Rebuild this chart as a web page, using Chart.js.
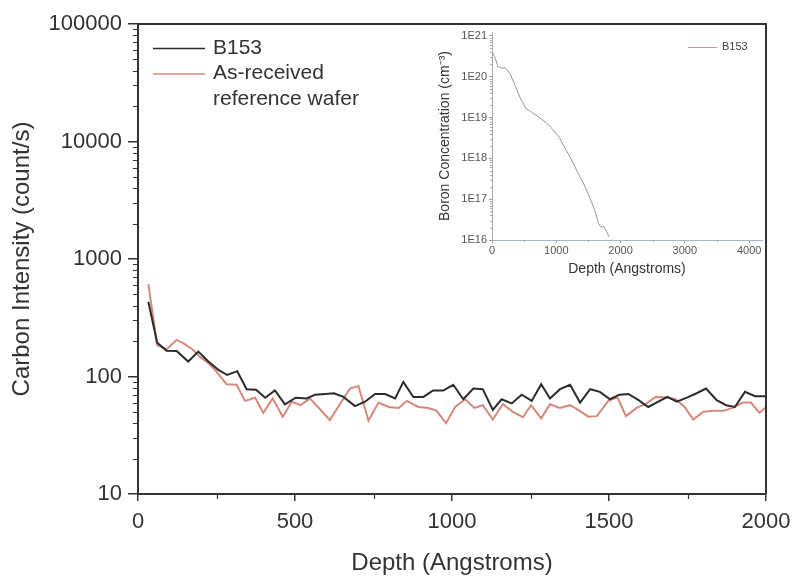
<!DOCTYPE html>
<html>
<head>
<meta charset="utf-8">
<script src="https://cdn.jsdelivr.net/npm/chart.js@4/dist/chart.umd.min.js"></script>
<style>
html, body { margin: 0; padding: 0; background: #fff; }
#wrap { position: relative; width: 792px; height: 576px; }
#main { position: absolute; left: 0; top: 0; }
#inset { position: absolute; left: 425px; top: 24px; }
</style>
</head>
<body>
<div id="wrap">
<canvas id="main" width="792" height="576"></canvas>
<canvas id="inset" width="345" height="266"></canvas>
</div>
<script>
// main plot: carbon SIMS profile
var b153Depth = [33, 61, 91, 123, 160, 192, 224, 256, 284, 316, 346, 376, 405, 436, 468, 502, 537, 564, 596, 624,
	654, 691, 723, 755, 787, 819, 845, 877, 909, 940, 972, 1004, 1036, 1068, 1098, 1130, 1158, 1190, 1222, 1254,
	1284, 1312, 1344, 1376, 1408, 1440, 1471, 1503, 1533, 1562, 1594, 1625, 1657, 1686, 1716, 1748, 1779, 1809,
	1843, 1873, 1901, 1933, 1965, 2000];
var b153Counts = [433, 194, 166, 165, 134, 163, 134, 114, 103, 111, 78, 77, 66, 76, 58, 66, 65, 70, 71, 72,
	67, 56, 61, 71, 71, 65, 90, 67, 67, 76, 76, 85, 64, 79, 78, 52, 64, 59, 70, 62,
	86, 65, 78, 85, 60, 78, 74, 64, 70, 71, 63, 55, 61, 67, 61, 66, 72, 79,
	63, 57, 55, 74, 68, 68];

var refDepth = [33, 61, 91, 123, 144, 176, 197, 224, 250, 282, 314, 341, 373, 399, 429, 461, 490, 518, 548, 611,
	643, 675, 702, 734, 766, 798, 830, 856, 893, 925, 951, 981, 1010, 1042, 1071, 1098, 1130, 1162, 1194, 1226,
	1252, 1284, 1312, 1344, 1376, 1402, 1434, 1461, 1498, 1527, 1554, 1588, 1620, 1648, 1680, 1712, 1741, 1768,
	1800, 1832, 1864, 1894, 1926, 1952, 1979, 2000];
var refCounts = [612, 185, 170, 205, 192, 168, 147, 130, 110, 86, 85, 62, 66, 49, 65, 45.5, 61, 57, 65, 42.6,
	58, 79, 83, 42, 60, 55, 54, 62, 55, 54, 51, 40, 55, 64, 54, 57, 43, 58, 50, 45,
	57, 44, 58, 54, 57, 52, 45.5, 46, 62, 66.5, 46, 54, 59, 67, 66.5, 64, 55, 43,
	50, 51, 51, 54, 60, 60, 49, 55];

var xTicks = [0, 500, 1000, 1500, 2000];
var xMinor = [250, 750, 1250, 1750];
var yTicks = [10, 100, 1000, 10000, 100000];
var yMinor = [];
[10, 100, 1000, 10000].forEach(function(d) {
	for (var k = 2; k <= 9; k++) yMinor.push(k * d);
});

// inset: boron profile
var boronDepth = [0, 40, 90, 150, 210, 280, 360, 440, 530, 600, 700, 850, 950, 1050, 1110, 1240, 1340, 1450,
	1550, 1600, 1660, 1690, 1740, 1780, 1820];
var boronConc = [4.0e20, 3.2e20, 1.8e20, 1.65e20, 1.65e20, 1.2e20, 6.0e19, 3.0e19, 1.65e19, 1.4e19, 1.1e19,
	7.4e18, 5.0e18, 3.2e18, 2.1e18, 9.1e17, 4.3e17, 2.0e17, 8.3e16, 5.2e16, 2.5e16, 2.1e16, 2.1e16, 1.65e16, 1.2e16];

var insetXTicks = [0, 1000, 2000, 3000, 4000];
var insetXMinor = [500, 1500, 2500, 3500];
var insetYTicks = [1e16, 1e17, 1e18, 1e19, 1e20, 1e21];
var insetYMinor = [];
[1e16, 1e17, 1e18, 1e19, 1e20].forEach(function(d) {
	for (var k = 2; k <= 9; k++) insetYMinor.push(k * d);
});

var FAMILY = '"Liberation Sans", Arial, Helvetica, sans-serif';
Chart.defaults.font.family = FAMILY;

function pairs(xs, ys) {
	return xs.map(function(x, i) { return {x: x, y: ys[i]}; });
}

// keep label overhang from shrinking the plot box
function noPad(s) {
	s.paddingLeft = 0;
	s.paddingRight = 0;
	s.paddingTop = 0;
	s.paddingBottom = 0;
}

// top + right border of the plot box
var frame = {
	id: 'frame',
	afterDraw: function(chart, args, opts) {
		if (!opts.width) return;
		var a = chart.chartArea, ctx = chart.ctx;
		ctx.save();
		ctx.strokeStyle = opts.color;
		ctx.lineWidth = opts.width;
		ctx.beginPath();
		ctx.moveTo(a.left, a.top);
		ctx.lineTo(a.right, a.top);
		ctx.lineTo(a.right, a.bottom);
		ctx.stroke();
		ctx.restore();
	}
};

// short minor ticks, outside the axes
var minorTicks = {
	id: 'minorTicks',
	afterDraw: function(chart, args, opts) {
		var ctx = chart.ctx, xs = chart.scales.x, ys = chart.scales.y;
		ctx.save();
		ctx.strokeStyle = opts.color;
		ctx.lineWidth = opts.width;
		ctx.beginPath();
		(opts.x || []).forEach(function(v) {
			var px = Math.round(xs.getPixelForValue(v)) + 0.5;
			ctx.moveTo(px, xs.top);
			ctx.lineTo(px, xs.top + opts.len);
		});
		(opts.y || []).forEach(function(v) {
			var py = Math.round(ys.getPixelForValue(v)) + 0.5;
			ctx.moveTo(ys.right, py);
			ctx.lineTo(ys.right - opts.len, py);
		});
		ctx.stroke();
		ctx.restore();
	}
};

// legend with a plain line sample and multi-line labels
var lineLegend = {
	id: 'lineLegend',
	afterDraw: function(chart, args, opts) {
		var ctx = chart.ctx;
		var y = opts.y;
		ctx.save();
		ctx.font = opts.size + 'px ' + FAMILY;
		ctx.fillStyle = opts.color;
		ctx.textBaseline = 'middle';
		chart.data.datasets.forEach(function(ds) {
			ctx.strokeStyle = opts.lineColor || ds.borderColor;
			ctx.lineWidth = opts.lineWidth;
			ctx.beginPath();
			ctx.moveTo(opts.x, y + 0.5);
			ctx.lineTo(opts.x + opts.len, y + 0.5);
			ctx.stroke();
			var lines = String(ds.label).split('\n');
			lines.forEach(function(t, i) {
				ctx.fillText(t, opts.x + opts.len + opts.gap, y + i * opts.lineHeight);
			});
			y += lines.length * opts.lineHeight;
		});
		ctx.restore();
	}
};

var mainChart = new Chart(document.getElementById('main').getContext('2d'), {
	type: 'line',
	data: {
		datasets: [{
			label: 'B153',
			data: pairs(b153Depth, b153Counts),
			borderColor: '#2b2b2b',
			borderWidth: 2
		},
		{
			label: 'As-received\nreference wafer',
			data: pairs(refDepth, refCounts),
			borderColor: '#d5897b',
			borderWidth: 2
		}]
	},
	options: {
		responsive: false,
		animation: false,
		layout: {padding: {top: 24, right: 26, left: 0, bottom: 0}},
		elements: {point: {radius: 0}, line: {tension: 0}},
		plugins: {
			legend: {display: false},
			tooltip: {enabled: false},
			frame: {color: '#333', width: 2},
			minorTicks: {x: xMinor, y: yMinor, len: 5, color: '#333', width: 1.2},
			lineLegend: {x: 153, y: 48, len: 52, gap: 8, size: 21, lineHeight: 25.5, lineWidth: 1.3, color: '#333'}
		},
		scales: {
			x: {
				type: 'linear',
				min: 0,
				max: 2000,
				afterBuildTicks: function(s) { s.ticks = xTicks.map(function(v) { return {value: v}; }); },
				afterFit: function(s) { s.height = 82; noPad(s); },
				ticks: {font: {size: 22}, color: '#333', padding: 8, maxRotation: 0, autoSkip: false,
					callback: function(v) { return String(v); }},
				grid: {drawOnChartArea: false, tickLength: 7, color: '#333', lineWidth: 1.5},
				border: {color: '#333', width: 2},
				title: {display: true, text: 'Depth (Angstroms)', font: {size: 24}, color: '#333', padding: {top: 0, bottom: -2}}
			},
			y: {
				type: 'logarithmic',
				min: 10,
				max: 100000,
				afterBuildTicks: function(s) { s.ticks = yTicks.map(function(v) { return {value: v}; }); },
				afterFit: function(s) { s.width = 138; noPad(s); },
				ticks: {font: {size: 22}, color: '#333', padding: 6, autoSkip: false, callback: function(v) { return String(v); }},
				grid: {drawOnChartArea: false, tickLength: 10, color: '#333', lineWidth: 1.5},
				border: {color: '#333', width: 2},
				title: {display: true, text: 'Carbon Intensity (count/s)', font: {size: 24}, color: '#333', padding: {top: 8, bottom: 0}}
			}
		}
	},
	plugins: [frame, minorTicks, lineLegend]
});

var insetChart = new Chart(document.getElementById('inset').getContext('2d'), {
	type: 'line',
	data: {
		datasets: [{
			label: 'B153',
			data: pairs(boronDepth, boronConc),
			borderColor: '#a09393',
			borderWidth: 1
		}]
	},
	options: {
		responsive: false,
		animation: false,
		layout: {padding: {top: 8, right: 8, left: 0, bottom: 0}},
		elements: {point: {radius: 0}, line: {tension: 0}},
		plugins: {
			legend: {display: false},
			tooltip: {enabled: false},
			frame: {width: 0},
			minorTicks: {x: insetXMinor, y: insetYMinor, len: 2, color: '#aaa', width: 1},
			lineLegend: {x: 263, y: 23, len: 29, gap: 5, size: 11, lineHeight: 13, lineWidth: 1, color: '#444', lineColor: '#d8948b'}
		},
		scales: {
			x: {
				type: 'linear',
				min: 0,
				max: 4200,
				afterBuildTicks: function(s) { s.ticks = insetXTicks.map(function(v) { return {value: v}; }); },
				afterFit: function(s) { s.height = 50; noPad(s); },
				ticks: {font: {size: 11}, color: '#555', padding: 1, maxRotation: 0, autoSkip: false,
					callback: function(v) { return String(v); }},
				grid: {drawOnChartArea: false, tickLength: 3, color: '#999', lineWidth: 1},
				border: {color: '#a8b6c8', width: 1},
				title: {display: true, text: 'Depth (Angstroms)', font: {size: 14}, color: '#333', padding: {top: 0, bottom: 12}}
			},
			y: {
				type: 'logarithmic',
				min: 1e16,
				max: 1.25e21,
				afterBuildTicks: function(s) { s.ticks = insetYTicks.map(function(v) { return {value: v}; }); },
				afterFit: function(s) { s.width = 67; noPad(s); },
				ticks: {font: {size: 11}, color: '#555', padding: 2, autoSkip: false,
					callback: function(v) { return '1E' + Math.round(Math.log10(v)); }},
				grid: {drawOnChartArea: false, tickLength: 3, color: '#999', lineWidth: 1},
				border: {color: '#aaa', width: 1},
				title: {display: true, text: 'Boron Concentration (cm\u207B\u00B3)', font: {size: 14}, color: '#333', padding: {top: 12, bottom: 0}}
			}
		}
	},
	plugins: [minorTicks, lineLegend]
});
</script>
</body>
</html>
